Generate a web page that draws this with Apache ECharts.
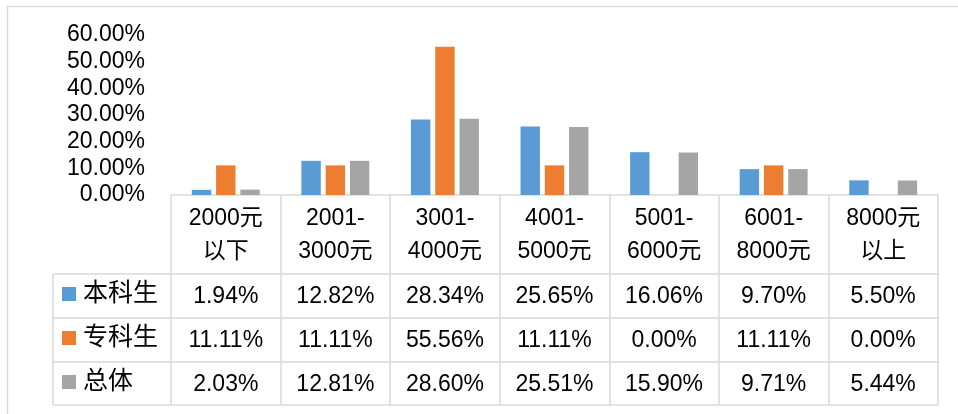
<!DOCTYPE html>
<html>
<head>
  <meta charset="utf-8">
  <title>月薪分布</title>
  <script src="https://cdn.jsdelivr.net/npm/echarts@6.0.0/dist/echarts.min.js"></script>
  <style>
    html, body { margin: 0; padding: 0; background: #fff; }
    #main { width: 958px; height: 414px; }
  </style>
</head>
<body>
  <div id="main"></div>
  <script>
    // 数据
    const categories = ['2000元\n以下', '2001-\n3000元', '3001-\n4000元', '4001-\n5000元', '5001-\n6000元', '6001-\n8000元', '8000元\n以上'];
    const seriesNames = ['本科生', '专科生', '总体'];
    const benke = [0.0194, 0.1282, 0.2834, 0.2565, 0.1606, 0.0970, 0.0550];
    const zhuanke = [0.1111, 0.1111, 0.5556, 0.1111, 0.0000, 0.1111, 0.0000];
    const zongti = [0.0203, 0.1281, 0.2860, 0.2551, 0.1590, 0.0971, 0.0544];
    const colors = ['#5B9BD5', '#ED7D31', '#A5A5A5'];

    const rows = [benke, zhuanke, zongti];
    const font = "'Liberation Sans', 'Noto Sans CJK SC', sans-serif";
    const lineColor = '#D9D9D9';
    const pct = v => (v * 100).toFixed(2) + '%';

    // 表格布局
    const tableLeft = 53, tableRight = 938, axisY = 195;
    const rowLines = [274, 318, 362, 405];

    const chart = echarts.init(document.getElementById('main'));

    // 数据行：每个系列一条无轴线的类目轴
    const rowAxes = rows.map((r, i) => ({
      type: 'category',
      data: categories,
      position: 'bottom',
      offset: 90 + i * 44,
      axisLine: { show: false },
      axisTick: { show: false },
      axisLabel: {
        margin: 0,
        fontSize: 23,
        fontFamily: font,
        color: '#000',
        lineHeight: 24,
        interval: 0,
        formatter: (v, idx) => pct(r[idx])
      }
    }));

    const graphics = [
      {
        type: 'rect',
        shape: { x: 7.5, y: 6.5, width: 1000, height: 500 },
        style: { fill: 'none', stroke: lineColor, lineWidth: 1.5 },
        silent: true
      },
      {
        type: 'line',
        shape: { x1: tableLeft, y1: rowLines[0], x2: tableLeft, y2: rowLines[rowLines.length - 1] },
        style: { stroke: lineColor, lineWidth: 1.5 },
        silent: true
      }
    ];
    rowLines.forEach(y => {
      graphics.push({
        type: 'line',
        shape: { x1: tableLeft, y1: y, x2: tableRight, y2: y },
        style: { stroke: lineColor, lineWidth: 1.5 },
        silent: true
      });
    });

    const option = {
      animation: false,
      color: colors,
      textStyle: { fontFamily: font },
      grid: { left: 171, right: 958 - tableRight, top: 35, bottom: 414 - axisY },
      legend: {
        orient: 'vertical',
        left: 62,
        top: 279,
        padding: 0,
        itemGap: 14,
        itemWidth: 14,
        itemHeight: 14,
        icon: 'rect',
        selectedMode: false,
        data: seriesNames,
        textStyle: { fontSize: 25, color: '#000', fontFamily: font, lineHeight: 30, padding: [0, 0, 0, 2] }
      },
      xAxis: [{
        type: 'category',
        data: categories,
        axisLine: { show: true, lineStyle: { color: lineColor, width: 1.5 } },
        axisTick: { show: true, length: rowLines[rowLines.length - 1] - axisY, lineStyle: { color: lineColor, width: 1.5 } },
        axisLabel: {
          interval: 0,
          margin: 7,
          fontSize: 23,
          lineHeight: 33,
          fontFamily: font,
          color: '#000'
        }
      }].concat(rowAxes),
      yAxis: {
        type: 'value',
        min: 0,
        max: 0.6,
        interval: 0.1,
        axisLine: { show: false },
        axisTick: { show: false },
        splitLine: { show: false },
        axisLabel: {
          margin: 26,
          fontSize: 23,
          fontFamily: font,
          color: '#000',
          formatter: v => pct(v)
        }
      },
      series: rows.map((r, i) => ({
        name: seriesNames[i],
        type: 'bar',
        data: r,
        barGap: '25%',
        barCategoryGap: '38%',
        itemStyle: { color: colors[i] }
      })),
      graphic: graphics
    };

    chart.setOption(option);
  </script>
</body>
</html>
